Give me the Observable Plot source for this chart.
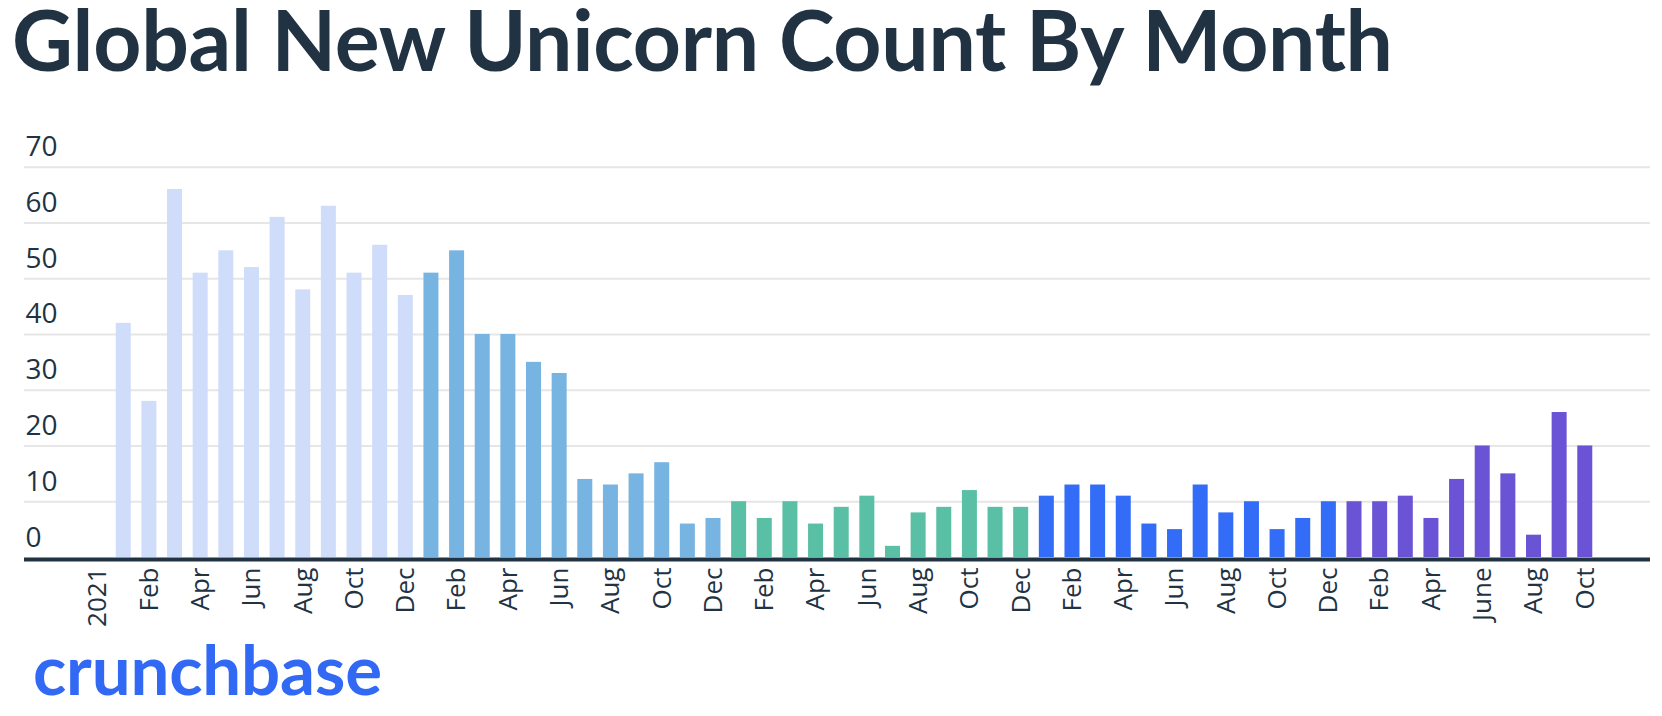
<!DOCTYPE html>
<html>
<head>
<meta charset="utf-8">
<script src="https://cdn.jsdelivr.net/npm/d3@7"></script>
<script src="https://cdn.jsdelivr.net/npm/@observablehq/plot@0.6"></script>
<style>
  html, body { margin: 0; padding: 0; background: #fff; }
  body { width: 1662px; height: 716px; position: relative; overflow: hidden; }
  #title, #chart, #logo { position: absolute; left: 0; overflow: visible; }
  #title { top: 0; }
  #chart { top: 100px; }
  #logo { top: 600px; }
</style>
</head>
<body>
<svg id="title" width="1662" height="100"></svg>
<div id="chart"></div>
<svg id="logo" width="1662" height="116"></svg>
<script>
// ---- data ----
const years = ["2021", "2022", "2023", "2024", "2025"];
const values2021 = [42, 28, 66, 51, 55, 52, 61, 48, 63, 51, 56, 47];
const values2022 = [51, 55, 40, 40, 35, 33, 14, 13, 15, 17, 6, 7];
const values2023 = [10, 7, 10, 6, 9, 11, 2, 8, 9, 12, 9, 9];
const values2024 = [11, 13, 13, 11, 6, 5, 13, 8, 10, 5, 7, 10];
const values2025 = [10, 10, 11, 7, 14, 20, 15, 4, 26, 20];
const yearColors = ["#d0ddfa", "#77b4e1", "#59bfa5", "#336cf6", "#6a53d4"];
const xTickLabels = [
  "2021", "Feb", "Apr", "Jun", "Aug", "Oct", "Dec",
  "Feb", "Apr", "Jun", "Aug", "Oct", "Dec",
  "Feb", "Apr", "Jun", "Aug", "Oct", "Dec",
  "Feb", "Apr", "Jun", "Aug", "Oct", "Dec",
  "Feb", "Apr", "June", "Aug", "Oct"
];
const yTicks = [0, 10, 20, 30, 40, 50, 60, 70];
const titleText = "Global New Unicorn Count By Month";
const logoText = "crunchbase";

// ---- table ----
const series = [values2021, values2022, values2023, values2024, values2025];
const data = [];
years.forEach((yr, i) => {
  series[i].forEach((v, m) => {
    data.push({ key: `${yr}-${String(m + 1).padStart(2, "0")}`, year: yr, value: v });
  });
});
const domain = ["2020-12", ...data.map(d => d.key)];
const tickKeys = domain.filter((k, i) => i % 2 === 0);

const ink = "#213343";

const chart = Plot.plot({
  width: 1662,
  height: 540,
  marginTop: 66.7,
  marginBottom: 83,
  marginLeft: 24,
  marginRight: 12,
  style: { fontFamily: "'Open Sans', sans-serif", color: ink, background: "transparent", overflow: "visible" },
  x: { type: "band", domain, range: [84.8, 1597.6], paddingInner: 0.415, paddingOuter: 0.2075, round: false, axis: null },
  y: { domain: [0, 70], axis: null },
  color: { domain: years, range: yearColors },
  marks: [
    Plot.ruleY(yTicks.filter(t => t > 0), { stroke: "#e6e6e6", strokeWidth: 2 }),
    Plot.barY(data, { x: "key", y: "value", fill: "year" }),
    Plot.ruleY([0], { stroke: ink, strokeWidth: 4, dy: 2 }),
    Plot.axisX({
      ticks: tickKeys,
      tickFormat: k => xTickLabels[tickKeys.indexOf(k)],
      tickRotate: -90,
      tickSize: 0,
      tickPadding: 10,
      fontSize: 26,
      fill: ink,
      label: null
    }),
    Plot.text(yTicks, {
      y: d => d,
      text: d => String(d),
      frameAnchor: "left",
      textAnchor: "start",
      lineAnchor: "bottom",
      dx: 1,
      dy: -11,
      fontSize: 28,
      fill: ink
    })
  ]
});
document.getElementById("chart").appendChild(chart);

// ---- title ----
d3.select("#title").append("text")
  .attr("x", 12).attr("y", 71)
  .attr("font-family", "Lato, sans-serif")
  .attr("font-weight", 700)
  .attr("font-size", 84)
  .attr("fill", ink)
  .attr("textLength", 1381)
  .attr("lengthAdjust", "spacing")
  .text(titleText);

// ---- logo ----
d3.select("#logo").append("text")
  .attr("x", 33).attr("y", 95)
  .attr("font-family", "Lato, sans-serif")
  .attr("font-weight", 700)
  .attr("font-size", 69)
  .attr("fill", "#3169f5")
  .attr("textLength", 349)
  .attr("lengthAdjust", "spacing")
  .text(logoText);
</script>
</body>
</html>
